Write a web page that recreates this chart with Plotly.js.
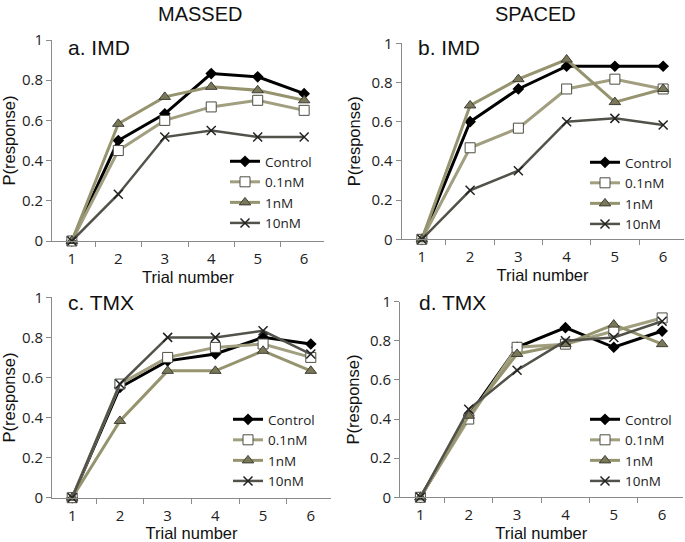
<!DOCTYPE html>
<html>
<head>
<meta charset="utf-8">
<script src="https://cdn.plot.ly/plotly-3.0.1.min.js"></script>
<style>html,body{margin:0;padding:0;background:#fff;}#chart{width:685px;height:542px;}</style>
</head>
<body>
<div id="chart"></div>
<script>
// ---- data ----
const trials = ['1', '2', '3', '4', '5', '6'];
const seriesNames = ['Control', '0.1nM', '1nM', '10nM'];
const panelTitles = ['a. IMD', 'b. IMD', 'c. TMX', 'd. TMX'];
const columnTitles = ['MASSED', 'SPACED'];
const yTickVals = [0, 0.2, 0.4, 0.6, 0.8, 1];
const yTickText = ['0', '0.2', '0.4', '0.6', '0.8', '1'];

// a. IMD massed
const aControl = [0, 0.5, 0.633, 0.833, 0.817, 0.733];
const a01nM    = [0, 0.45, 0.6, 0.667, 0.7, 0.65];
const a1nM     = [0, 0.583, 0.717, 0.767, 0.75, 0.7];
const a10nM    = [0, 0.233, 0.517, 0.55, 0.517, 0.517];
// b. IMD spaced
const bControl = [0, 0.6, 0.767, 0.883, 0.883, 0.883];
const b01nM    = [0, 0.467, 0.567, 0.767, 0.817, 0.767];
const b1nM     = [0, 0.683, 0.817, 0.917, 0.7, 0.767];
const b10nM    = [0, 0.25, 0.35, 0.6, 0.617, 0.583];
// c. TMX massed
const cControl = [0, 0.55, 0.683, 0.717, 0.8, 0.767];
const c01nM    = [0, 0.567, 0.7, 0.75, 0.767, 0.7];
const c1nM     = [0, 0.383, 0.633, 0.633, 0.733, 0.633];
const c10nM    = [0, 0.567, 0.8, 0.8, 0.833, 0.717];
// d. TMX spaced
const dControl = [0, 0.417, 0.767, 0.867, 0.767, 0.85];
const d01nM    = [0, 0.4, 0.767, 0.783, 0.85, 0.917];
const d1nM     = [0, 0.417, 0.733, 0.783, 0.883, 0.783];
const d10nM    = [0, 0.45, 0.65, 0.8, 0.817, 0.9];

const panelData = [
  [aControl, a01nM, a1nM, a10nM],
  [bControl, b01nM, b1nM, b10nM],
  [cControl, c01nM, c1nM, c10nM],
  [dControl, d01nM, d1nM, d10nM]
];

// ---- styles ----
const W = 685, H = 542;
const styles = [
  {line: {color: '#000000', width: 3}, marker: {symbol: 'diamond', size: 9, color: '#000000'}},
  {line: {color: '#a19f80', width: 3}, marker: {symbol: 'square', size: 10, color: '#ffffff', line: {color: '#4d4d44', width: 1}}},
  {line: {color: '#96946f', width: 3}, marker: {symbol: 'triangle-up', size: 10, color: '#7a7858', line: {color: '#3e3e36', width: 1}}},
  {line: {color: '#52524a', width: 2.5}, marker: {symbol: 'x-thin-open', size: 9, color: '#222222', line: {color: '#222222', width: 1.5}}}
];
// pixel boxes: [left, right, top(y=1), bottom(y=0)]
const boxes = [
  [52, 324, 40, 241],
  [401.5, 683.5, 43.3, 239.3],
  [52, 331, 297.3, 497.7],
  [400, 682.5, 301.7, 497.3]
];
const legendPos = [[225, 146], [585, 147], [228, 404], [585, 404]];
const labelPos = [[66, 47], [416, 47], [66, 302], [417, 302]];

const traces = [];
const layout = {
  width: W, height: H,
  margin: {l: 0, r: 0, t: 0, b: 0},
  paper_bgcolor: '#ffffff', plot_bgcolor: '#ffffff',
  font: {family: 'Open Sans, Liberation Sans, sans-serif', color: '#222'},
  showlegend: true,
  annotations: []
};

for (let p = 0; p < 4; p++) {
  const ax = p === 0 ? '' : String(p + 1);
  const leg = p === 0 ? 'legend' : 'legend' + (p + 1);
  for (let s = 0; s < 4; s++) {
    traces.push({
      type: 'scatter', mode: 'lines+markers',
      x: trials, y: panelData[p][s], name: seriesNames[s],
      xaxis: 'x' + ax, yaxis: 'y' + ax, legend: leg,
      line: styles[s].line, marker: styles[s].marker,
      cliponaxis: false
    });
  }
  const b = boxes[p];
  layout['xaxis' + ax] = {
    type: 'category', domain: [b[0] / W, b[1] / W], anchor: 'y' + ax,
    tickson: 'boundaries', ticks: 'outside', ticklen: 5, tickcolor: '#8a8a8a',
    ticklabelstandoff: 4,
    showline: true, linecolor: '#8a8a8a', linewidth: 1, showgrid: false, zeroline: false,
    tickfont: {family: 'Open Sans, sans-serif', size: 15, color: '#222'},
    title: {text: 'Trial number', font: {family: 'Liberation Sans, Arial, sans-serif', size: 16.5, color: '#111'}, standoff: 0},
    fixedrange: true
  };
  layout['yaxis' + ax] = {
    domain: [1 - b[3] / H, 1 - b[2] / H], anchor: 'x' + ax, range: [0, 1],
    tickvals: yTickVals, ticktext: yTickText,
    ticks: 'outside', ticklen: 5, tickcolor: '#8a8a8a',
    showline: true, linecolor: '#8a8a8a', linewidth: 1, showgrid: false, zeroline: false,
    tickfont: {family: 'Open Sans, sans-serif', size: 15, color: '#222'},
    title: {text: 'P(response)', font: {family: 'Liberation Sans, Arial, sans-serif', size: 16.5, color: '#111'}, standoff: 6},
    fixedrange: true
  };
  layout[leg] = {
    x: legendPos[p][0] / W, y: 1 - legendPos[p][1] / H, xanchor: 'left', yanchor: 'top',
    bgcolor: 'rgba(0,0,0,0)', borderwidth: 0,
    font: {family: 'Open Sans, sans-serif', size: 13.5, color: '#222'},
    itemclick: false, itemdoubleclick: false
  };
  layout.annotations.push({
    text: panelTitles[p], xref: 'paper', yref: 'paper',
    x: labelPos[p][0] / W, y: 1 - labelPos[p][1] / H, xanchor: 'left', yanchor: 'middle',
    showarrow: false, font: {family: 'Liberation Sans, Arial, sans-serif', size: 21, color: '#111'}
  });
}
layout.annotations.push({
  text: columnTitles[0], xref: 'paper', yref: 'paper', x: 200 / W, y: 1 - 14 / H,
  xanchor: 'center', yanchor: 'middle', showarrow: false,
  font: {family: 'Liberation Sans, Arial, sans-serif', size: 20, color: '#111'}
});
layout.annotations.push({
  text: columnTitles[1], xref: 'paper', yref: 'paper', x: 535 / W, y: 1 - 14 / H,
  xanchor: 'center', yanchor: 'middle', showarrow: false,
  font: {family: 'Liberation Sans, Arial, sans-serif', size: 20, color: '#111'}
});

Plotly.newPlot('chart', traces, layout, {staticPlot: true, displayModeBar: false});
</script>
</body>
</html>
